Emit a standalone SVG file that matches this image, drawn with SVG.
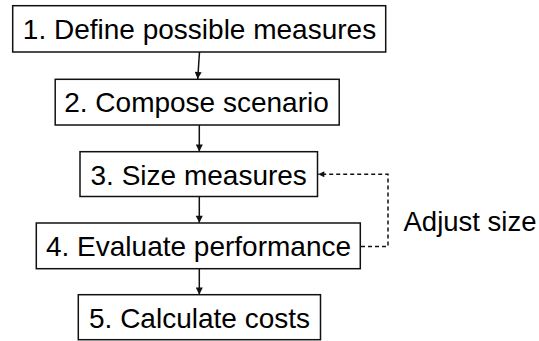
<svg xmlns="http://www.w3.org/2000/svg" width="539" height="341" viewBox="0 0 539 341">
<style>
.box{fill:#fff;stroke:#111;stroke-width:1.5}
.t{font-family:"Liberation Sans",Arial,sans-serif;font-size:28px;fill:#000;text-anchor:middle}
.c{fill:none;stroke:#111;stroke-width:1.5}
.d{stroke-dasharray:4,3}
</style>
<defs>
<marker id="ah" viewBox="0 0 10 10" refX="10" refY="5" markerWidth="9" markerHeight="7" markerUnits="userSpaceOnUse" orient="auto">
<path d="M0,0 L10,5 L0,10 z" fill="#111"/>
</marker>
<marker id="ahs" viewBox="0 0 10 10" refX="10" refY="5" markerWidth="7" markerHeight="6" markerUnits="userSpaceOnUse" orient="auto">
<path d="M0,0 L10,5 L0,10 z" fill="#111"/>
</marker>
</defs>
<rect width="539" height="341" fill="#fff"/>
<g id="connectors">
<line class="c" x1="199.5" y1="52" x2="197.7" y2="79" marker-end="url(#ah)"/>
<line class="c" x1="199.3" y1="125" x2="199.3" y2="151.5" marker-end="url(#ah)"/>
<line class="c" x1="199.3" y1="197" x2="199.3" y2="222.8" marker-end="url(#ah)"/>
<line class="c" x1="199.3" y1="268.7" x2="199.3" y2="294.6" marker-end="url(#ah)"/>
<polyline class="c d" points="361,246.5 388,246.5 388,174.3 318.3,174.3" marker-end="url(#ahs)"/>
<text class="t" x="470" y="230.5" style="font-size:27.5px">Adjust size</text>
</g>
<g id="n1"><rect class="box" x="12.7" y="5.7" width="373" height="46.3"/><text class="t" x="199.5" y="39">1. Define possible measures</text></g>
<g id="n2"><rect class="box" x="55.2" y="79.3" width="284" height="45.7"/><text class="t" x="196.5" y="112">2. Compose scenario</text></g>
<g id="n3"><rect class="box" x="80" y="151.7" width="237.5" height="44.8"/><text class="t" x="198.7" y="184.5">3. Size measures</text></g>
<g id="n4"><rect class="box" x="36.3" y="223" width="324" height="45.7"/><text class="t" x="198.5" y="256">4. Evaluate performance</text></g>
<g id="n5"><rect class="box" x="78.3" y="294.7" width="242.2" height="45"/><text class="t" x="199.5" y="327.5">5. Calculate costs</text></g>
</svg>
